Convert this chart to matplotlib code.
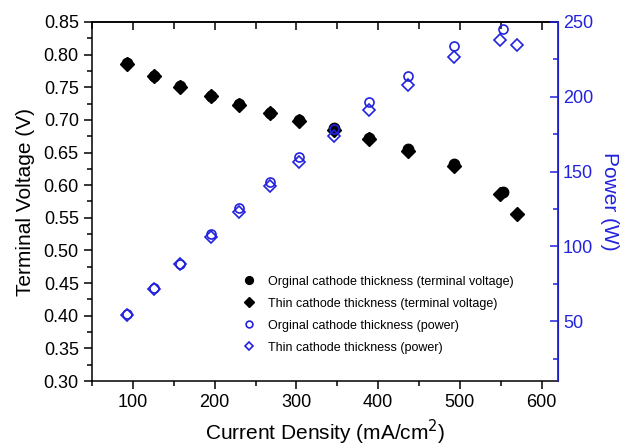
import matplotlib
matplotlib.use("Agg")
import matplotlib.pyplot as plt
from matplotlib.ticker import MultipleLocator

plt.rcParams['font.family'] = ['Liberation Sans', 'DejaVu Sans']

# Data
x_orig = [93, 126, 158, 196, 230, 268, 303, 346, 389, 436, 493, 553]
v_orig = [0.787, 0.768, 0.752, 0.737, 0.724, 0.711, 0.700, 0.687, 0.672, 0.655, 0.632, 0.589]
p_orig = [54.5, 72.0, 88.5, 108.0, 125.5, 143.3, 159.8, 178.2, 196.2, 214.0, 233.8, 245.5]

x_thin = [93, 126, 158, 196, 230, 268, 303, 346, 389, 436, 493, 549, 570]
v_thin = [0.786, 0.767, 0.751, 0.736, 0.723, 0.710, 0.699, 0.684, 0.670, 0.653, 0.630, 0.586, 0.556]
p_thin = [54.2, 71.5, 88.0, 106.5, 123.3, 140.5, 156.2, 173.8, 191.1, 208.2, 226.7, 237.8, 234.5]

labels = ["Orginal cathode thickness (terminal voltage)",
          "Thin cathode thickness (terminal voltage)",
          "Orginal cathode thickness (power)",
          "Thin cathode thickness (power)"]

blue = '#2222dd'

fig = plt.figure(figsize=(6.22, 4.48), dpi=100)
ax = fig.add_axes([92/622, 67/448, 466/622, 359/448])
ax2 = ax.twinx()

h1, = ax.plot(x_orig, v_orig, 'o', color='black', ms=7.5, ls='none', label=labels[0])
h2, = ax.plot(x_thin, v_thin, 'D', color='black', ms=7, ls='none', label=labels[1])
h3, = ax2.plot(x_orig, p_orig, 'o', mfc='none', mec=blue, mew=1.2, ms=6.5, ls='none', label=labels[2])
h4, = ax2.plot(x_thin, p_thin, 'D', mfc='none', mec=blue, mew=1.2, ms=6, ls='none', label=labels[3])

ax.set_xlim(50, 620)
ax.set_ylim(0.30, 0.85)
ax2.set_ylim(10, 250)

ax.xaxis.set_major_locator(MultipleLocator(100))
ax.xaxis.set_minor_locator(MultipleLocator(50))
ax.yaxis.set_major_locator(MultipleLocator(0.05))
ax.yaxis.set_minor_locator(MultipleLocator(0.025))
ax.yaxis.set_major_formatter(matplotlib.ticker.FormatStrFormatter('%.2f'))
ax2.yaxis.set_major_locator(MultipleLocator(50))
ax2.yaxis.set_minor_locator(MultipleLocator(25))

ax.tick_params(axis='both', which='major', direction='out', length=6, width=1.1, labelsize=13)
ax.tick_params(axis='both', which='minor', direction='out', length=3.5, width=1.1)
ax.tick_params(axis='y', right=False, which='both')

secx = ax.secondary_xaxis('top')
secx.xaxis.set_major_locator(MultipleLocator(100))
secx.xaxis.set_minor_locator(MultipleLocator(50))
secx.tick_params(which='both', direction='in', labeltop=False, width=1.1)
secx.tick_params(which='major', length=6)
secx.tick_params(which='minor', length=5)
secx.spines['top'].set_linewidth(1.1)

ax2.tick_params(axis='y', which='major', direction='in', length=6, width=1.1,
                colors=blue, labelsize=13)
ax2.tick_params(axis='y', which='minor', direction='in', length=3.5, width=1.1, colors=blue)
ax2.spines['right'].set_color(blue)
ax2.spines['right'].set_linewidth(1.3)

for s in ['left', 'bottom', 'top']:
    ax.spines[s].set_linewidth(1.1)
ax2.spines['top'].set_visible(False)
ax2.spines['left'].set_visible(False)
ax2.spines['bottom'].set_visible(False)

ax.set_xlabel('Current Density (mA/cm$^2$)', fontsize=15, labelpad=5)
ax.set_ylabel('Terminal Voltage (V)', fontsize=15, labelpad=6)
ax2.set_ylabel('Power (W)', fontsize=15, color=blue, rotation=270, labelpad=19)

leg = ax2.legend(handles=[h1, h2, h3, h4], loc='center left',
                 bbox_to_anchor=(0.323, 0.185), frameon=False, fontsize=9,
                 handlelength=1.0, handletextpad=1.05, labelspacing=0.8,
                 borderpad=0, borderaxespad=0, markerscale=0.75)

fig.savefig('out.png', dpi=100)
